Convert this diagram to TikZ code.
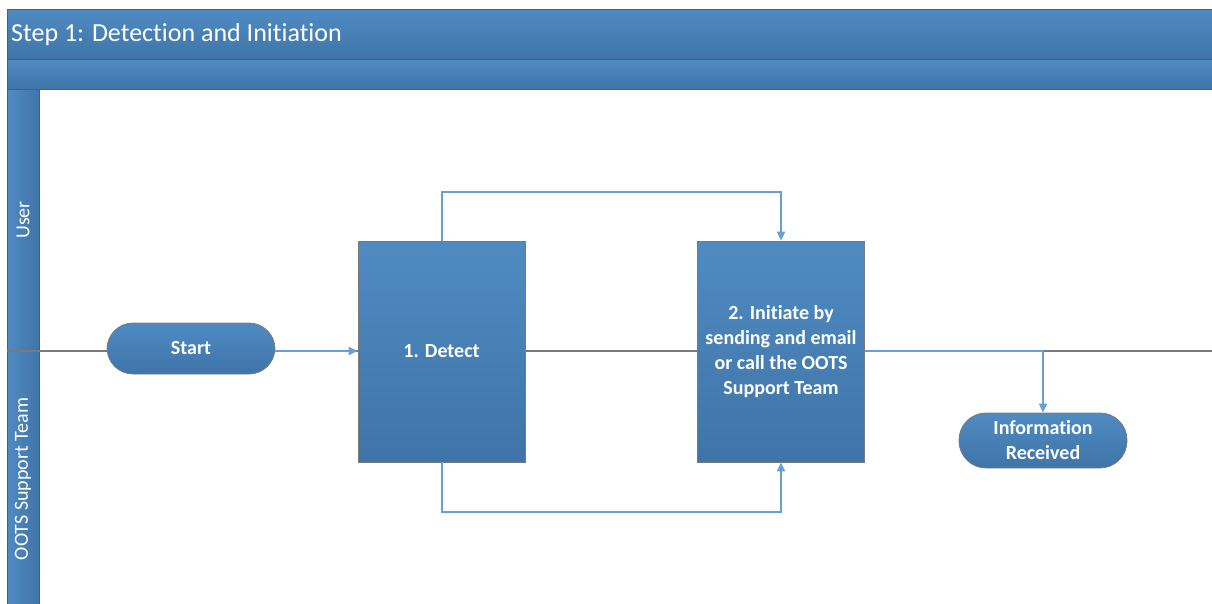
\documentclass[tikz,border=0pt]{standalone}
\usepackage{fontspec}
\setmainfont{Carlito}[Ligatures=NoCommon]
\usetikzlibrary{arrows.meta}
\definecolor{bluetop}{HTML}{4F8BC1}
\definecolor{bluebot}{HTML}{3F74A8}
\definecolor{conn}{HTML}{6A9FD6}
\definecolor{edge}{HTML}{7A7A7A}
\definecolor{band}{HTML}{4A5F75}
\tikzset{
  shapebox/.style={draw=edge, line width=0.8pt, top color=bluetop, bottom color=bluebot, text=white, font=\fontsize{20}{25}\selectfont\bfseries, align=center, inner sep=2pt},
  procbox/.style={shapebox, minimum width=167, minimum height=221},
  pill/.style={shapebox, rounded corners=26, minimum width=168},
  connector/.style={draw=conn, line width=2pt, -{Triangle[length=9,width=8]}},
  plainconn/.style={draw=conn, line width=2pt},
  laneline/.style={draw=edge, line width=1.5pt},
  bandbox/.style={draw=band, line width=1pt, top color=bluetop, bottom color=bluebot},
  lanelabel/.style={text=white, font=\fontsize{20}{24}\selectfont, rotate=90},
}
\begin{document}
\begin{tikzpicture}[x=1pt,y=-1pt]
\useasboundingbox (0,0) rectangle (1212,604);
% header bands
\path[bandbox] (7,10) rectangle (1214,60);
\path[bandbox] (7,60) rectangle (1214,90);
\path[draw=band, line width=1pt, left color=bluetop, right color=bluebot] (7,90) rectangle (39,606);
\node[anchor=west, text=white, font=\fontsize{26}{30}\selectfont, inner sep=0pt] (title) at (11,35) {Step 1: Detection and Initiation};
% lane labels
\node[lanelabel] (user) at (23,220) {User};
\node[lanelabel] (oots) at (23,479) {OOTS Support Team};
% lane line
\coordinate (lane) at (0,351);
\draw[laneline] (7,351) -- (1212,351);
% nodes
\node[pill, minimum height=51] (start) at (191,348.5) {Start};
\node[procbox] (detect) at (441.5,351.5) {1. Detect};
\node[procbox] (init) at (781,351.5) {2. Initiate by\\sending and email\\or call the OOTS\\Support Team};
\node[pill, minimum height=55, rounded corners=27] (info) at (1043,440.5) {Information\\Received};
% connectors
\coordinate (topy) at (0,192);
\coordinate (boty) at (0,512);
\coordinate (joint) at (info.north |- lane);
\draw[connector] (start.east |- lane) -- (detect.west |- lane);
\draw[connector] (detect.north) -- (detect.north |- topy) -| (init.north);
\draw[connector] (detect.south) -- (detect.south |- boty) -| (init.south);
\draw[plainconn] (init.east |- lane) -- (joint);
\draw[connector] (joint) -- (info.north);
\end{tikzpicture}
\end{document}
